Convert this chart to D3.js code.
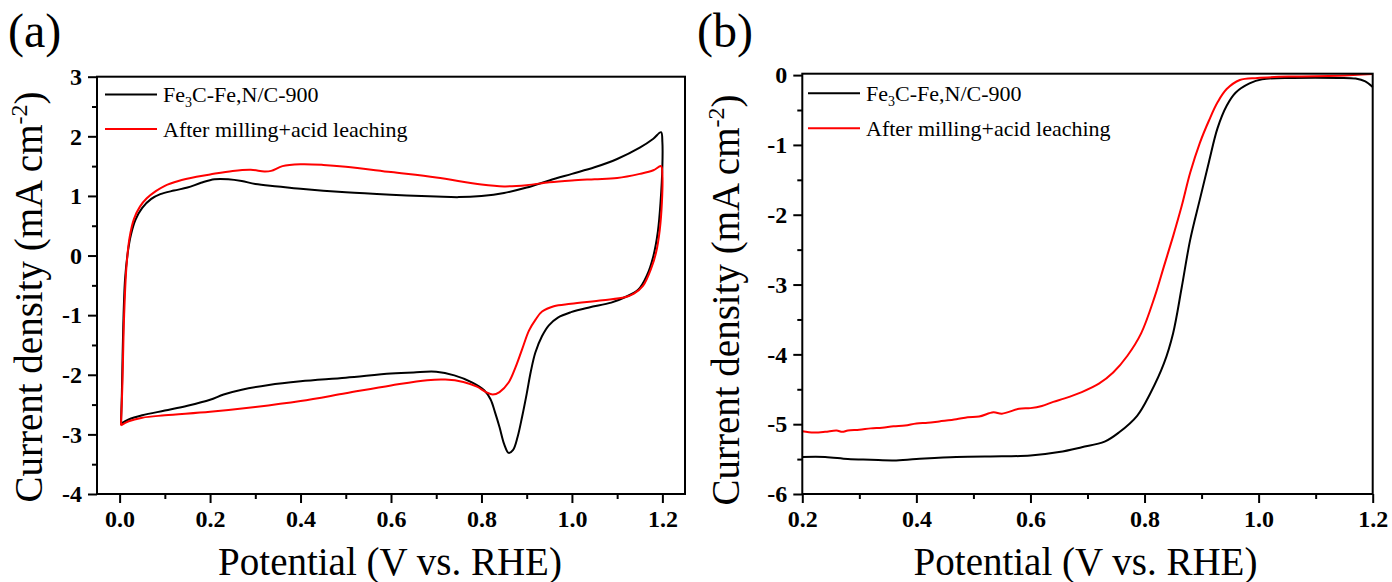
<!DOCTYPE html>
<html><head><meta charset="utf-8">
<script src="https://cdn.jsdelivr.net/npm/d3@7"></script>
<style>body{margin:0;background:#fff} svg{display:block} text{font-family:"Liberation Serif","Times New Roman",serif;fill:#000}</style>
</head><body><svg id="c" width="1392" height="582"></svg>
<script>
// ---------- DATA ----------
const seriesNames = ["Fe3C-Fe,N/C-900", "After milling+acid leaching"];
const seriesColors = ["#000000", "#ff0000"];

const cvXTicks = [0.0, 0.2, 0.4, 0.6, 0.8, 1.0, 1.2];
const cvYTicks = [-4, -3, -2, -1, 0, 1, 2, 3];
const lsvXTicks = [0.2, 0.4, 0.6, 0.8, 1.0, 1.2];
const lsvYTicks = [-6, -5, -4, -3, -2, -1, 0];

// CV (panel a): [potential V, current density mA cm-2]
const cvBlack = [
 [0.003,-2.82],[0.005,-2.3],[0.008,-1.2],[0.012,-0.4],[0.018,0.05],[0.025,0.35],[0.035,0.6],[0.05,0.8],[0.07,0.95],[0.09,1.03],
 [0.12,1.09],[0.15,1.14],[0.18,1.22],[0.21,1.28],[0.24,1.28],[0.27,1.25],[0.3,1.2],[0.35,1.16],[0.4,1.12],[0.5,1.06],
 [0.6,1.02],[0.7,0.99],[0.75,0.98],[0.8,1.0],[0.85,1.05],[0.9,1.14],[0.95,1.26],[1.0,1.37],[1.05,1.48],[1.1,1.62],
 [1.15,1.81],[1.18,1.96],[1.197,2.07],[1.2,1.9],[1.2,1.5],[1.196,0.9],[1.19,0.4],[1.18,-0.01],[1.166,-0.33],[1.147,-0.57],
 [1.117,-0.7],[1.087,-0.79],[1.038,-0.87],[0.998,-0.95],[0.969,-1.04],[0.949,-1.17],[0.934,-1.35],[0.919,-1.63],[0.909,-1.95],
 [0.9,-2.32],[0.89,-2.7],[0.88,-3.04],[0.87,-3.26],[0.86,-3.31],[0.85,-3.16],[0.84,-2.88],[0.83,-2.63],[0.82,-2.41],
 [0.806,-2.26],[0.78,-2.13],[0.74,-2.01],[0.7,-1.95],[0.65,-1.96],[0.6,-1.98],[0.5,-2.05],[0.4,-2.11],[0.33,-2.17],
 [0.27,-2.25],[0.23,-2.33],[0.2,-2.42],[0.15,-2.52],[0.1,-2.6],[0.05,-2.68],[0.02,-2.75],[0.003,-2.82]
];
const cvRed = [
 [0.003,-2.85],[0.006,-2.2],[0.01,-1.0],[0.015,-0.2],[0.022,0.3],[0.032,0.62],[0.045,0.82],[0.06,0.96],[0.08,1.08],[0.1,1.17],
 [0.13,1.25],[0.17,1.32],[0.2,1.36],[0.25,1.42],[0.29,1.44],[0.32,1.41],[0.335,1.42],[0.36,1.5],[0.4,1.53],[0.45,1.52],
 [0.5,1.49],[0.6,1.4],[0.7,1.31],[0.8,1.19],[0.85,1.16],[0.9,1.18],[0.95,1.23],[1.0,1.26],[1.05,1.28],[1.1,1.3],
 [1.15,1.37],[1.18,1.43],[1.197,1.5],[1.2,1.35],[1.199,0.9],[1.194,0.42],[1.186,0.05],[1.176,-0.2],[1.157,-0.51],
 [1.137,-0.64],[1.117,-0.7],[1.068,-0.75],[0.998,-0.81],[0.96,-0.85],[0.934,-0.94],[0.92,-1.07],[0.905,-1.26],[0.89,-1.57],
 [0.875,-1.88],[0.86,-2.13],[0.84,-2.29],[0.825,-2.33],[0.81,-2.29],[0.79,-2.2],[0.76,-2.12],[0.72,-2.08],[0.68,-2.09],
 [0.6,-2.18],[0.5,-2.31],[0.4,-2.44],[0.3,-2.54],[0.2,-2.62],[0.1,-2.68],[0.05,-2.72],[0.02,-2.78],[0.003,-2.85]
];

// LSV (panel b)
const lsvBlack = [
 [0.2,-5.47],[0.24,-5.47],[0.28,-5.5],[0.32,-5.51],[0.36,-5.52],[0.4,-5.5],[0.47,-5.47],[0.55,-5.46],[0.6,-5.45],
 [0.65,-5.4],[0.69,-5.33],[0.73,-5.25],[0.755,-5.12],[0.787,-4.88],[0.81,-4.56],[0.834,-4.13],[0.85,-3.7],[0.865,-3.05],
 [0.88,-2.36],[0.897,-1.78],[0.913,-1.24],[0.928,-0.76],[0.944,-0.44],[0.96,-0.25],[0.984,-0.12],[1.006,-0.06],
 [1.06,-0.04],[1.14,-0.04],[1.17,-0.05],[1.187,-0.09],[1.2,-0.17]
];
const lsvRed = [
 [0.2,-5.1],[0.22,-5.12],[0.24,-5.11],[0.26,-5.09],[0.27,-5.11],[0.28,-5.09],[0.3,-5.08],[0.32,-5.06],[0.34,-5.05],
 [0.36,-5.03],[0.38,-5.02],[0.4,-4.99],[0.42,-4.98],[0.44,-4.96],[0.47,-4.93],[0.49,-4.9],[0.51,-4.89],[0.535,-4.83],
 [0.55,-4.85],[0.58,-4.78],[0.6,-4.77],[0.62,-4.74],[0.64,-4.68],[0.66,-4.63],[0.69,-4.54],[0.72,-4.42],[0.745,-4.26],
 [0.77,-4.02],[0.794,-3.7],[0.818,-3.17],[0.834,-2.74],[0.85,-2.31],[0.865,-1.88],[0.88,-1.4],[0.897,-0.97],[0.913,-0.65],
 [0.928,-0.39],[0.944,-0.2],[0.967,-0.07],[0.998,-0.04],[1.06,-0.02],[1.14,-0.01],[1.2,0.015]
];

// ---------- DRAW ----------
const svg = d3.select("#c");
const fmtY = d => String(d);
const fmtX = d3.format(".1f");

function panel(cfg) {
  const x = d3.scaleLinear().domain(cfg.xDomain).range([cfg.left, cfg.right]);
  const y = d3.scaleLinear().domain(cfg.yDomain).range([cfg.bottom, cfg.top]);
  const g = svg.append("g");

  // minor ticks
  g.append("g").attr("transform", `translate(0,${cfg.bottom})`)
    .call(d3.axisBottom(x).tickValues(cfg.xMinor).tickSize(5).tickFormat(""))
    .call(a => a.select(".domain").remove())
    .call(a => a.selectAll("line").attr("stroke-width", 2));
  g.append("g").attr("transform", `translate(${cfg.left},0)`)
    .call(d3.axisLeft(y).tickValues(cfg.yMinor).tickSize(5).tickFormat(""))
    .call(a => a.select(".domain").remove())
    .call(a => a.selectAll("line").attr("stroke-width", 2));

  // major ticks
  g.append("g").attr("transform", `translate(0,${cfg.bottom})`)
    .call(d3.axisBottom(x).tickValues(cfg.xTicks).tickSize(9).tickPadding(7).tickFormat(fmtX))
    .call(a => a.select(".domain").remove())
    .call(a => a.selectAll("line").attr("stroke-width", 2))
    .call(a => a.selectAll("text").attr("font-size", 24).attr("font-weight", "bold")
      .attr("font-family", "Liberation Serif").attr("fill", "#000"));
  g.append("g").attr("transform", `translate(${cfg.left},0)`)
    .call(d3.axisLeft(y).tickValues(cfg.yTicks).tickSize(9).tickPadding(6).tickFormat(fmtY))
    .call(a => a.select(".domain").remove())
    .call(a => a.selectAll("line").attr("stroke-width", 2))
    .call(a => a.selectAll("text").attr("font-size", 24).attr("font-weight", "bold")
      .attr("font-family", "Liberation Serif").attr("fill", "#000"));

  // curves
  const line = d3.line().x(d => x(d[0])).y(d => y(d[1])).curve(d3.curveCatmullRom.alpha(0.5));
  cfg.series.forEach((s, i) => {
    g.append("path").datum(s).attr("d", line).attr("fill", "none")
      .attr("stroke", seriesColors[i]).attr("stroke-width", 2).attr("stroke-linejoin", "round");
  });

  // frame
  g.append("rect").attr("x", cfg.left).attr("y", cfg.top)
    .attr("width", cfg.right - cfg.left).attr("height", cfg.bottom - cfg.top)
    .attr("fill", "none").attr("stroke", "#000").attr("stroke-width", 2);

  // legend
  const lg = g.append("g");
  [0, 1].forEach(i => {
    const ly = cfg.legY[i];
    lg.append("line").attr("x1", cfg.legX).attr("x2", cfg.legX + 52).attr("y1", ly).attr("y2", ly)
      .attr("stroke", seriesColors[i]).attr("stroke-width", 2);
    const t = lg.append("text").attr("x", cfg.legX + 58).attr("y", ly + 7.5).attr("font-size", 22);
    if (i === 0) {
      t.append("tspan").text("Fe");
      t.append("tspan").text("3").attr("font-size", 14).attr("dy", 5);
      t.append("tspan").text("C-Fe,N/C-900").attr("dy", -5);
    } else {
      t.text(seriesNames[1]);
    }
  });

  // axis titles
  g.append("text").attr("x", (cfg.left + cfg.right) / 2 + cfg.xtDx).attr("y", 575)
    .attr("text-anchor", "middle").attr("font-size", 39).text("Potential (V vs. RHE)");
  const yt = g.append("text").attr("transform", `translate(${cfg.ytX},${cfg.ytY}) rotate(-90)`)
    .attr("text-anchor", "middle").attr("font-size", 39);
  yt.append("tspan").text("Current density (mA cm");
  yt.append("tspan").text("-2").attr("font-size", 24).attr("dy", -15);
  yt.append("tspan").text(")").attr("dy", 15);

  // panel label
  g.append("text").attr("x", cfg.labX).attr("y", 47).attr("font-size", 48).text(cfg.label);
}

panel({
  left: 97, right: 685, top: 76.7, bottom: 494,
  xDomain: [-0.05, 1.25], yDomain: [-4, 3],
  xTicks: cvXTicks, xMinor: [0.1, 0.3, 0.5, 0.7, 0.9, 1.1],
  yTicks: cvYTicks, yMinor: [-3.5, -2.5, -1.5, -0.5, 0.5, 1.5, 2.5],
  series: [cvBlack, cvRed],
  legX: 105, legY: [94.5, 129],
  xtDx: -1, ytX: 42, ytY: 297, labX: 8, label: "(a)"
});
panel({
  left: 802.3, right: 1372.7, top: 73.7, bottom: 494,
  xDomain: [0.2, 1.2], yDomain: [-6, 0.02],
  xTicks: lsvXTicks, xMinor: [0.3, 0.5, 0.7, 0.9, 1.1],
  yTicks: lsvYTicks, yMinor: [-5.5, -4.5, -3.5, -2.5, -1.5, -0.5],
  series: [lsvBlack, lsvRed],
  legX: 808, legY: [93.3, 128.3],
  xtDx: -2, ytX: 739, ytY: 300, labX: 697, label: "(b)"
});
</script></body></html>
